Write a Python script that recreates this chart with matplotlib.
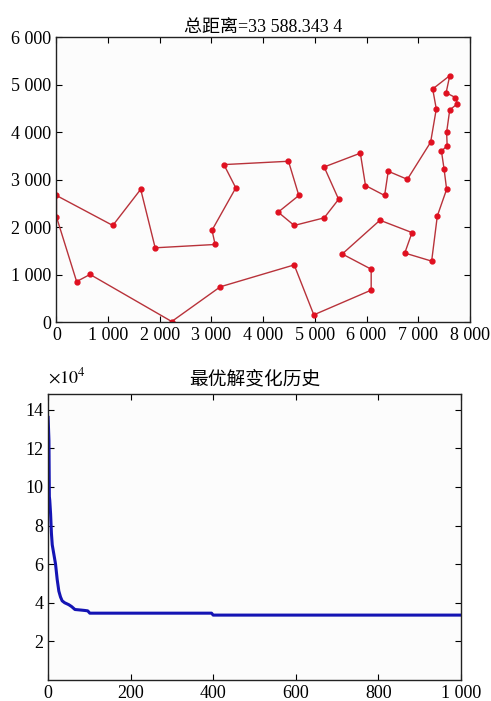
import numpy as np
import matplotlib
matplotlib.use("Agg")
import matplotlib.pyplot as plt
from matplotlib.ticker import FuncFormatter

plt.rcParams['font.family'] = ['Liberation Serif', 'Noto Sans CJK SC']
plt.rcParams['mathtext.fontset'] = 'stix'

# best tour (city coordinates, visiting order)
tour_x = [0, 1090, 1630, 1910, 3070, 3010, 3470, 3240, 4490, 4690, 4290, 4600,
          5180, 5460, 5180, 5880, 5980, 6350, 6420, 6790, 7240, 7350, 7280, 7610,
          7540, 7720, 7760, 7610, 7550, 7560, 7450, 7500, 7550, 7370, 7260, 6740,
          6880, 6260, 5530, 6090, 6090, 4980, 4600, 3170, 2230, 650, 390, 0]
tour_y = [2670, 2040, 2800, 1570, 1640, 1940, 2830, 3320, 3390, 2670, 2320, 2040,
          2200, 2590, 3270, 3560, 2880, 2670, 3180, 3010, 3790, 4490, 4910, 5190,
          4830, 4730, 4600, 4470, 4000, 3720, 3600, 3230, 2800, 2240, 1290, 1460,
          1890, 2150, 1440, 1120, 680, 160, 1210, 750, 20, 1010, 860, 2220]
total_dist = "33 588.343 4"

# convergence history (best length per generation)
gen = [0, 2, 3, 4, 6, 8, 10, 14, 18, 22, 26, 30, 34, 40, 50, 57, 65, 80, 89, 96, 101,
       396, 400, 1000]
best = [13.6, 12.4, 9.5, 9.3, 8.6, 7.6, 7.0, 6.5, 6.0, 5.2, 4.6, 4.3, 4.1, 4.0, 3.9,
        3.8, 3.65, 3.62, 3.6, 3.58, 3.46, 3.46, 3.36, 3.36]

fig = plt.figure(figsize=(4.91, 7.01), dpi=100)
thou = FuncFormatter(lambda v, p: "{:,}".format(int(v)).replace(",", " "))

ax1 = fig.add_axes([0.115, 0.540, 0.842, 0.407])
ax1.plot(tour_x + [tour_x[0]], tour_y + [tour_y[0]], color='#b8323a', lw=1.0)
ax1.plot(tour_x, tour_y, ls='none', marker='o', ms=3.5, color='#e01020')
ax1.set_xlim(0, 8000)
ax1.set_ylim(0, 6000)
ax1.set_xticks(range(0, 8001, 1000))
ax1.set_yticks(range(0, 6001, 1000))
ax1.xaxis.set_major_formatter(thou)
ax1.yaxis.set_major_formatter(thou)
ax1.set_title("总距离=" + total_dist, fontsize=13, pad=4)

ax2 = fig.add_axes([0.098, 0.030, 0.8405, 0.4076])
ax2.plot(gen, np.array(best) * 1e4, color='#1414b4', lw=2.2)
ax2.set_xlim(0, 1000)
ax2.set_ylim(0, 14.8e4)
ax2.set_xticks(range(0, 1001, 200))
ax2.set_yticks(np.arange(2, 15, 2) * 1e4)
ax2.xaxis.set_major_formatter(thou)
ax2.yaxis.set_major_formatter(FuncFormatter(lambda v, p: "%d" % round(v / 1e4)))
ax2.set_title("最优解变化历史", fontsize=13.5, pad=7)
ax2.text(0.0, 1.025, r"$\times10^4$", transform=ax2.transAxes, fontsize=13,
         ha='left', va='bottom')

for ax in (ax1, ax2):
    ax.set_facecolor('#fcfcfc')
    ax.tick_params(direction='in', top=True, right=True, labelsize=13, length=4)
    for s in ax.spines.values():
        s.set_linewidth(1.0)
        s.set_color('#222222')

fig.savefig("out.png", dpi=100)
